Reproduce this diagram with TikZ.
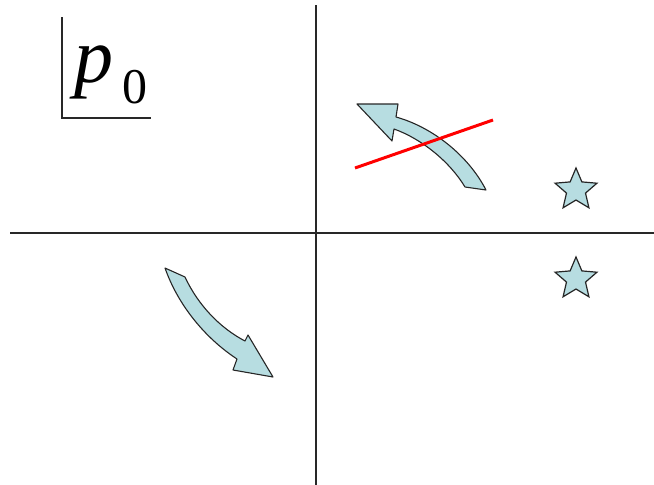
\documentclass[tikz,border=0pt]{standalone}
\usepackage{fontspec}
\newfontfamily\lblfont{Liberation Serif}
\usetikzlibrary{shapes.geometric}
\definecolor{arrowfill}{RGB}{183,221,225}
\definecolor{axisgray}{RGB}{40,40,40}
\begin{document}
\begin{tikzpicture}[x=1pt,y=-1pt,
  axis/.style={draw=axisgray,line width=1.3pt},
  blockarrow/.style={draw=black!85,fill=arrowfill,line width=1.1pt,line join=round},
  starnode/.style={star,star points=5,star point ratio=2.2,minimum size=44pt,inner sep=0pt,draw=black!85,fill=arrowfill,line width=1.2pt},
  cutline/.style={draw=red,line width=3pt}]
\useasboundingbox (0,0) rectangle (654,485);
% axes
\coordinate (xl) at (10,233);
\coordinate (xr) at (654,233);
\coordinate (yt) at (316,5);
\coordinate (yb) at (316,485);
\draw[axis] (xl) -- (xr);
\draw[axis] (yt) -- (yb);
% p0 label
\coordinate (bt) at (62,17);
\coordinate (bc) at (62,118);
\coordinate (br) at (151,118);
\draw[axis] (bt) -- (bc) -- (br);
\node[anchor=base west,inner sep=0pt,font=\lblfont\fontsize{78}{78}\selectfont\itshape] (p) at (74,82) {p};
\node[anchor=base west,inner sep=0pt,font=\lblfont\fontsize{50}{50}\selectfont] (sub) at (122,103) {0};
% upper curved arrow
\draw[blockarrow] (357,104) -- (398,104) -- (396,117)
  .. controls (432,127) and (468,155) .. (486,190)
  -- (465,187)
  .. controls (450,162) and (422,139) .. (394,129)
  -- (392,141) -- cycle;
% red line
\coordinate (ra) at (355,168);
\coordinate (rb) at (493,120);
\draw[cutline] (ra) -- (rb);
% lower curved arrow
\draw[blockarrow] (165,268) -- (185,277)
  .. controls (198,305) and (220,328) .. (245,341)
  -- (248,335) -- (273,377) -- (233,370) -- (237,359)
  .. controls (205,338) and (178,305) .. cycle;
% stars
\node[starnode] (s1) at (576,190) {};
\node[starnode] (s2) at (576,279) {};
\end{tikzpicture}
\end{document}
